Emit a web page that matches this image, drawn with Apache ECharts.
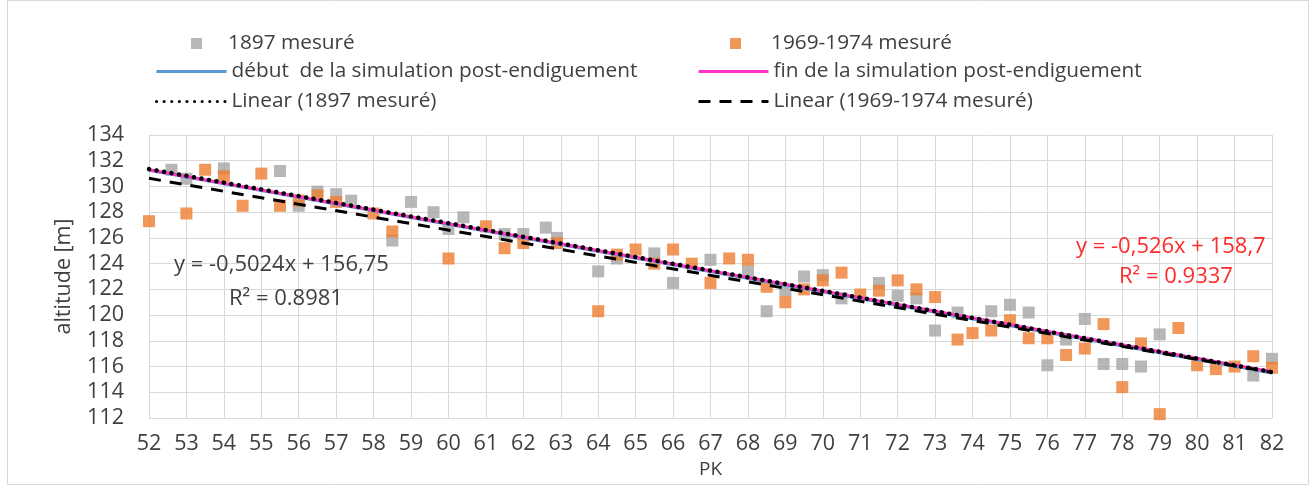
<!DOCTYPE html>
<html>
<head>
<meta charset="utf-8">
<script src="https://cdn.jsdelivr.net/npm/echarts@6/dist/echarts.min.js"></script>
<style>
  html, body { margin: 0; padding: 0; background: #fff; }
  #chart { width: 1313px; height: 486px; }
</style>
</head>
<body>
<div id="chart"></div>
<script>
// points relevés 1897 (PK, altitude)
const pk1897 = [52.6, 53.0, 54.0, 55.5, 56.0, 56.5, 57.0, 57.4, 58.5, 59.0, 59.6, 60.0, 60.4, 61.5, 62.0, 62.6, 62.9,
  64.0, 64.5, 65.5, 66.0, 67.0, 68.0, 68.5, 69.0, 69.5, 70.0, 70.5, 71.5, 72.0, 72.5, 73.0, 73.6, 74.5, 75.0, 75.5,
  76.0, 76.5, 77.0, 77.5, 78.0, 78.5, 79.0, 81.5, 82.0]
const alt1897 = [131.3, 130.6, 131.4, 131.2, 128.5, 129.6, 129.4, 128.9, 125.8, 128.8, 128.0, 126.7, 127.6, 126.3, 126.3, 126.8, 126.0,
  123.4, 124.4, 124.8, 122.5, 124.3, 123.4, 120.3, 121.9, 123.0, 123.1, 121.3, 122.5, 121.5, 121.3, 118.8, 120.2, 120.3, 120.8, 120.2,
  116.1, 118.1, 119.7, 116.2, 116.2, 116.0, 118.5, 115.3, 116.6]

// points relevés 1969-1974
const pk1969 = [52.0, 53.0, 53.5, 54.0, 54.5, 55.0, 55.5, 56.0, 56.5, 57.0, 58.0, 58.5, 60.0, 61.0, 61.5, 62.0, 62.9,
  64.0, 64.5, 65.0, 65.5, 66.0, 66.5, 67.0, 67.5, 68.0, 68.5, 69.0, 69.5, 70.0, 70.5, 71.0, 71.5, 72.0, 72.5, 73.0,
  73.6, 74.0, 74.5, 75.0, 75.5, 76.0, 76.5, 77.0, 77.5, 78.0, 78.5, 79.0, 79.5, 80.0, 80.5, 81.0, 81.5, 82.0]
const alt1969 = [127.3, 127.9, 131.3, 130.8, 128.5, 131.0, 128.5, 128.9, 129.3, 128.8, 127.9, 126.5, 124.4, 126.9, 125.2, 125.6, 125.6,
  120.3, 124.7, 125.1, 124.0, 125.1, 124.0, 122.5, 124.4, 124.3, 122.2, 121.0, 122.0, 122.7, 123.3, 121.6, 121.9, 122.7, 122.0, 121.4,
  118.1, 118.6, 118.8, 119.6, 118.2, 118.2, 116.9, 117.4, 119.3, 114.4, 117.8, 112.3, 119.0, 116.1, 115.8, 116.0, 116.8, 115.9]

// simulations post-endiguement
const simPk = [52, 82]
const simDebut = [131.25, 115.5]
const simFin = [131.3, 115.6]

// courbes de tendance (extrémités)
const trendPk = [52, 82]
const trend1897 = [131.35, 115.57]
const trend1969 = [130.63, 115.55]

const pairs = (xs, ys) => xs.map((x, i) => [x, ys[i]])

const FONT = '"Open Sans"'
const TXT = '#404040'
const GRID = '#d9d9d9'

const chart = echarts.init(document.getElementById('chart'), null, { renderer: 'canvas' })

const legendText = { color: TXT, fontSize: 20.8, fontFamily: FONT }
const legendBase = {
  orient: 'horizontal',
  padding: 0,
  selectedMode: false,
  textStyle: legendText
}
// légende ligne seule, sans symbole
const lineLegend = (name, left, top) => Object.assign({}, legendBase, {
  data: [name], left: left, top: top, itemWidth: 70, itemHeight: 14,
  itemStyle: { opacity: 0 },
  lineStyle: { width: 3 }
})
const markLegend = (name, left, top, pad) => Object.assign({}, legendBase, {
  data: [name], left: left, top: top, icon: 'rect', itemWidth: 11, itemHeight: 11,
  textStyle: Object.assign({}, legendText, { padding: [0, 0, 0, pad] })
})

chart.setOption({
  animation: false,
  backgroundColor: '#fff',
  textStyle: { fontFamily: FONT },
  grid: { left: 149, right: 41, top: 135, bottom: 68, containLabel: false },
  legend: [
    markLegend('1897 mesuré', 191, 33, 21),
    markLegend('1969-1974 mesuré', 730, 33, 25),
    lineLegend('début  de la simulation post-endiguement', 155, 61),
    lineLegend('fin de la simulation post-endiguement', 697, 61),
    lineLegend('Linear (1897 mesuré)', 155, 91),
    lineLegend('Linear (1969-1974 mesuré)', 697, 91)
  ],
  xAxis: {
    type: 'value',
    min: 52,
    max: 82,
    interval: 1,
    name: 'PK',
    nameLocation: 'middle',
    nameGap: 39,
    nameTextStyle: { color: TXT, fontSize: 19, fontFamily: FONT },
    axisLine: { show: true, lineStyle: { color: GRID, width: 1 } },
    axisTick: { show: false },
    axisLabel: { color: TXT, fontSize: 21.5, fontFamily: FONT, margin: 15 },
    splitLine: { show: true, lineStyle: { color: GRID, width: 1 } }
  },
  yAxis: {
    type: 'value',
    min: 112,
    max: 134,
    interval: 2,
    name: 'altitude [m]',
    nameLocation: 'middle',
    nameGap: 74,
    nameTextStyle: { color: TXT, fontSize: 21.5, fontFamily: FONT },
    axisLine: { show: true, lineStyle: { color: GRID, width: 1 } },
    axisTick: { show: false },
    axisLabel: { color: TXT, fontSize: 21.5, fontFamily: FONT, margin: 25 },
    splitLine: { show: true, lineStyle: { color: GRID, width: 1 } }
  },
  series: [
    {
      name: '1897 mesuré',
      type: 'scatter',
      symbol: 'rect',
      symbolSize: 12,
      itemStyle: { color: '#a5a5a5' },
      data: pairs(pk1897, alt1897),
      z: 2
    },
    {
      name: '1969-1974 mesuré',
      type: 'scatter',
      symbol: 'rect',
      symbolSize: 12,
      itemStyle: { color: '#ed7d31' },
      data: pairs(pk1969, alt1969),
      z: 3
    },
    {
      name: 'début  de la simulation post-endiguement',
      type: 'line',
      showSymbol: false,
      symbol: 'none',
      lineStyle: { color: '#5b9bd5', width: 3 },
      itemStyle: { color: '#5b9bd5' },
      data: pairs(simPk, simDebut),
      z: 4
    },
    {
      name: 'fin de la simulation post-endiguement',
      type: 'line',
      showSymbol: false,
      symbol: 'none',
      lineStyle: { color: '#ff33cc', width: 3 },
      itemStyle: { color: '#ff33cc' },
      data: pairs(simPk, simFin),
      z: 5
    },
    {
      name: 'Linear (1897 mesuré)',
      type: 'line',
      showSymbol: false,
      symbol: 'none',
      lineStyle: { color: '#000', width: 4.5, type: [0.1, 7.5], cap: 'round' },
      itemStyle: { color: '#000' },
      data: pairs(trendPk, trend1897),
      z: 7
    },
    {
      name: 'Linear (1969-1974 mesuré)',
      type: 'line',
      showSymbol: false,
      symbol: 'none',
      lineStyle: { color: '#000', width: 3, type: [12, 9] },
      itemStyle: { color: '#000' },
      data: pairs(trendPk, trend1969),
      z: 6
    }
  ],
  graphic: [
    {
      type: 'rect',
      shape: { x: 7.5, y: 0.5, width: 1301, height: 484 },
      style: { fill: null, stroke: '#d9d9d9', lineWidth: 1 },
      silent: true,
      z: -10
    },
    {
      type: 'text',
      left: 174,
      top: 254,
      style: { text: 'y = -0,5024x + 156,75', fill: TXT, font: '22px ' + FONT },
      z: 20
    },
    {
      type: 'text',
      left: 229,
      top: 288,
      style: { text: 'R² = 0.8981', fill: TXT, font: '22px ' + FONT },
      z: 20
    },
    {
      type: 'text',
      left: 1076,
      top: 236,
      style: { text: 'y = -0,526x + 158,7', fill: '#ff2a2a', font: '22px ' + FONT },
      z: 20
    },
    {
      type: 'text',
      left: 1119,
      top: 266,
      style: { text: 'R² = 0.9337', fill: '#ff2a2a', font: '22px ' + FONT },
      z: 20
    }
  ]
})
</script>
</body>
</html>
